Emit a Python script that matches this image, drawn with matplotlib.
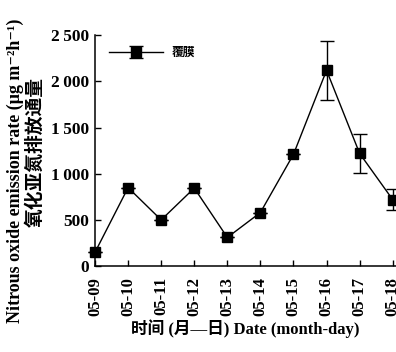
"""N2O emission rate under film mulching, 05-09 to 05-18."""

import matplotlib

matplotlib.use("Agg")
import matplotlib.pyplot as plt

dates = ["05-09", "05-10", "05-11", "05-12", "05-13",
         "05-14", "05-15", "05-16", "05-17", "05-18"]
emission = [150, 850, 500, 845, 310, 580, 1210, 2120, 1220, 720]
emission_err = [0, 0, 0, 0, 0, 0, 0, 320, 210, 115]
y_ticks = [0, 500, 1000, 1500, 2000, 2500]
y_tick_labels = ["0", "500", "1\u2009000", "1\u2009500", "2\u2009000", "2\u2009500"]

SERIF = ["Liberation Serif", "Noto Sans CJK SC", "DejaVu Serif"]
CJK = ["Noto Sans CJK SC", "Liberation Serif", "DejaVu Serif"]

fig = plt.figure(figsize=(3.96, 3.52), dpi=100)
ax = fig.add_axes([0.24, 0.244, 0.76, 0.656])

x = list(range(len(dates)))
ax.errorbar(
    x, emission, yerr=emission_err,
    color="black", linewidth=1.0, marker="s", markersize=6.5,
    capsize=5, elinewidth=1.0, capthick=1.0, clip_on=False,
    label="覆膜",
)

ax.set_xlim(0, 9.1)
ax.set_ylim(0, 2500)
ax.set_xticks(x)
ax.set_xticklabels(dates, rotation=90, family=SERIF, fontweight="bold", fontsize=12)
ax.set_yticks(y_ticks)
ax.set_yticklabels(y_tick_labels, family=SERIF, fontweight="bold", fontsize=12.5)
ax.tick_params(direction="in", length=4, width=1.0)
ax.tick_params(axis="x", pad=8)
ax.tick_params(axis="y", pad=4)

for side in ("top", "right"):
    ax.spines[side].set_visible(False)
for side in ("left", "bottom"):
    ax.spines[side].set_linewidth(1.1)

ax.legend(
    loc="upper left", frameon=False, handlelength=4.6, handletextpad=0.7,
    bbox_to_anchor=(0.01, 1.0), prop={"family": CJK, "weight": "bold", "size": 8.5},
)

fig.text(0.038, 0.515, "Nitrous oxide emission rate (μg m⁻²h⁻¹)",
         rotation=90, ha="center", va="center", family=SERIF,
         fontweight="bold", fontsize=13)
fig.text(0.088, 0.568, "氧化亚氮排放通量", rotation=90, ha="center", va="center",
         family=CJK, fontweight="bold", fontsize=13.5)
fig.text(0.62, 0.066, "时间 (月—日) Date (month-day)", ha="center", va="center",
         family=SERIF, fontweight="bold", fontsize=12)

fig.savefig("out.png", dpi=100)
plt.close(fig)
